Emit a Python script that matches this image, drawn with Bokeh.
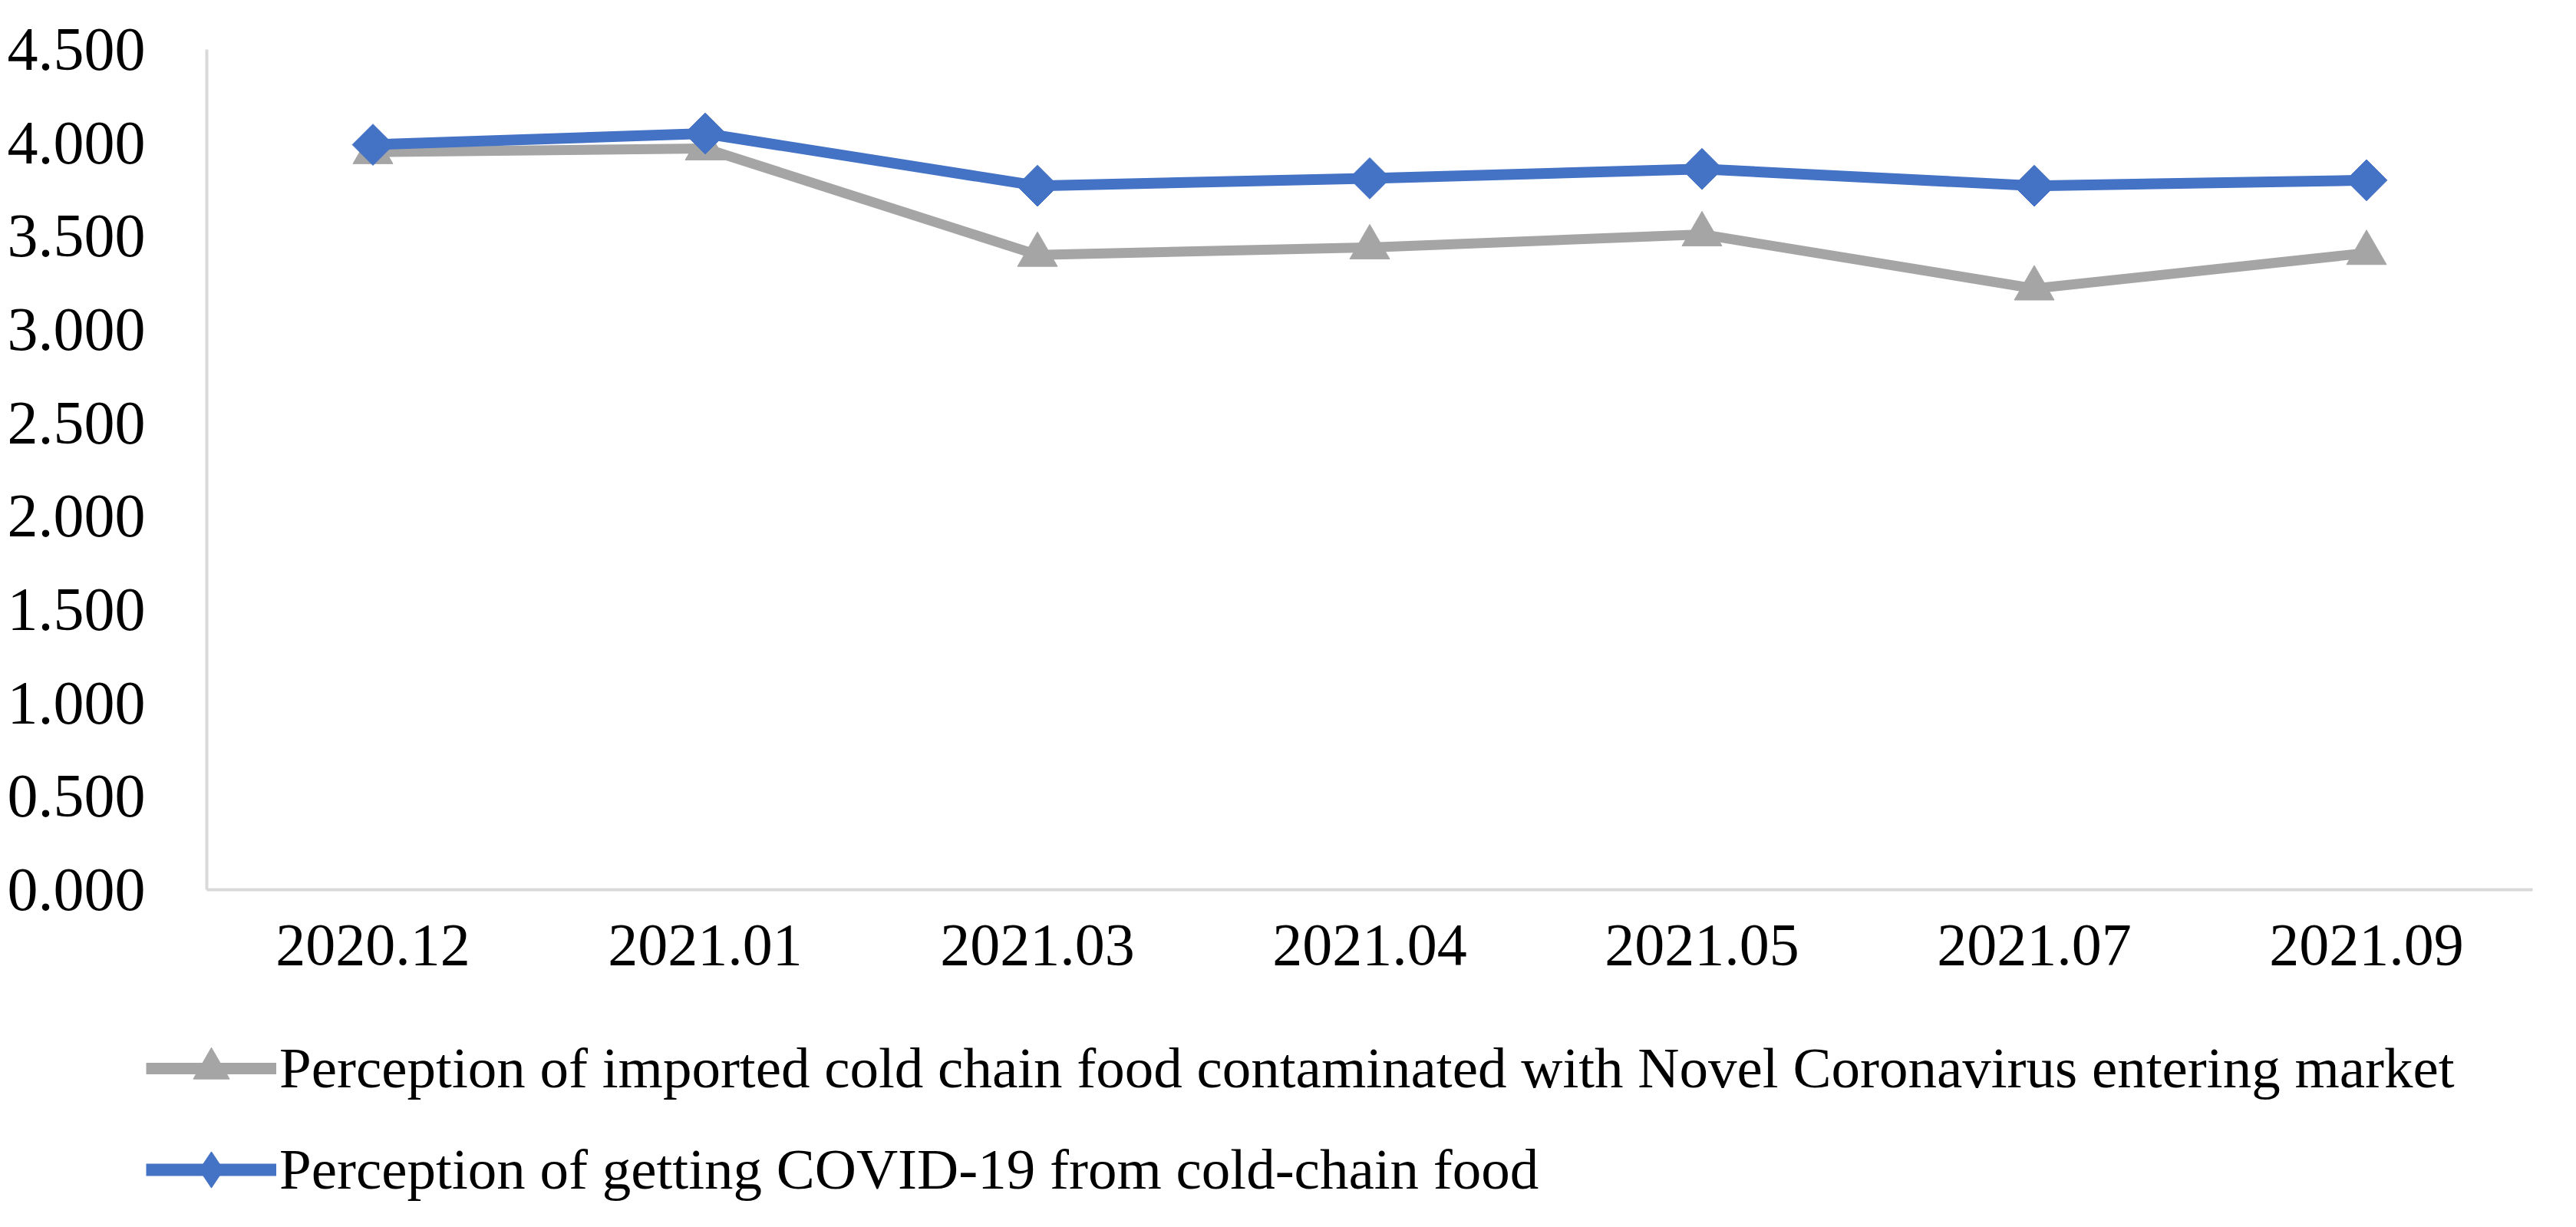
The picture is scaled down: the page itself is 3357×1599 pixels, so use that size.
from bokeh.plotting import figure
from bokeh.models import FactorRange, Range1d, FixedTicker, PrintfTickFormatter, Legend, LegendItem, ColumnDataSource
from bokeh.embed import file_html
from bokeh.resources import INLINE

months = ["2020.12", "2021.01", "2021.03", "2021.04", "2021.05", "2021.07", "2021.09"]
imported_food = [3.95, 3.97, 3.40, 3.44, 3.51, 3.22, 3.41]
covid_from_food = [3.99, 4.05, 3.77, 3.81, 3.86, 3.77, 3.80]
y_ticks = [0.0, 0.5, 1.0, 1.5, 2.0, 2.5, 3.0, 3.5, 4.0, 4.5]
label_imported = "Perception of imported cold chain food contaminated with Novel Coronavirus entering market"
label_covid = "Perception of getting COVID-19 from cold-chain food"

FONT = "Liberation Serif"
GRAY = "#A5A5A5"
BLUE = "#4472C4"
W = 3340

src = ColumnDataSource(dict(m=months, a=imported_food, b=covid_from_food))

# ---- main chart ----
p = figure(width=W, height=1293, x_range=FactorRange(*months, range_padding=0),
           y_range=Range1d(0, 4.5), output_backend="svg", toolbar_location=None,
           min_border_left=269, min_border_right=40, min_border_top=64, min_border_bottom=134)
p.outline_line_color = None
p.xgrid.visible = False
p.ygrid.visible = False

p.line("m", "a", source=src, line_color=GRAY, line_width=13)
p.scatter("m", "a", source=src, marker="triangle", size=52, fill_color=GRAY, line_color=GRAY)
p.line("m", "b", source=src, line_color=BLUE, line_width=14)
p.scatter("m", "b", source=src, marker="square", angle=0.785398, size=38, fill_color=BLUE, line_color=BLUE)

for ax in (p.xaxis[0], p.yaxis[0]):
    ax.axis_line_color = "#D9D9D9"
    ax.axis_line_width = 4
    ax.major_tick_line_color = None
    ax.minor_tick_line_color = None
    ax.major_label_text_font = FONT
    ax.major_label_text_color = "black"

p.yaxis.ticker = FixedTicker(ticks=y_ticks)
p.yaxis.formatter = PrintfTickFormatter(format="%.3f")
p.yaxis.major_label_text_font_size = "80px"
p.yaxis.major_label_standoff = 74
p.xaxis.major_label_text_font_size = "78px"
p.xaxis.major_label_standoff = 40

# ---- legend strip: same series, plotted out of view, only the legend shows ----
lg = figure(width=W, height=290, x_range=FactorRange(*months), y_range=Range1d(100, 101),
            x_axis_type=None, y_axis_type=None,
            output_backend="svg", toolbar_location=None,
            min_border_left=0, min_border_right=0, min_border_top=0, min_border_bottom=0)
lg.grid.visible = False
lg.outline_line_color = None
la = lg.line("m", "a", source=src, line_color=GRAY, line_width=15)
sa = lg.scatter("m", "a", source=src, marker="triangle", size=52, fill_color=GRAY, line_color=GRAY)
lb = lg.line("m", "b", source=src, line_color=BLUE, line_width=16)
sb = lg.scatter("m", "b", source=src, marker="diamond", size=52, fill_color=BLUE, line_color=BLUE)

legend = Legend(items=[LegendItem(label=label_imported, renderers=[la, sa]),
                       LegendItem(label=label_covid, renderers=[lb, sb])],
                location=(190, 0), orientation="vertical")
legend.label_text_font = FONT
legend.label_text_font_size = "75px"
legend.label_text_color = "black"
legend.glyph_width = 170
legend.glyph_height = 118
legend.label_height = 118
legend.label_standoff = 4
legend.spacing = 14
legend.padding = 0
legend.margin = 0
legend.border_line_color = None
legend.background_fill_alpha = 0
lg.add_layout(legend, "center")

open("out.html", "w").write(file_html([p, lg], INLINE))
